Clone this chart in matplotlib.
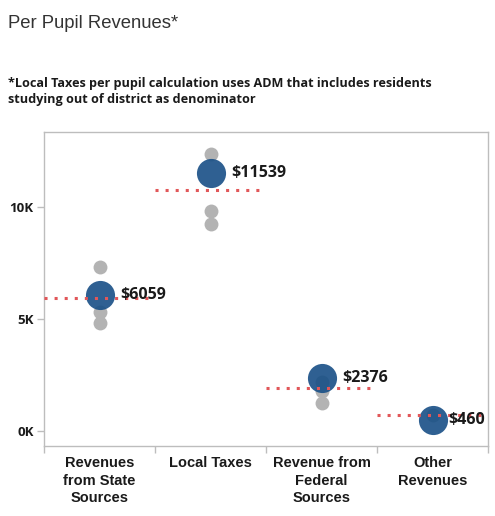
import numpy as np
import matplotlib
matplotlib.use("Agg")
import matplotlib.pyplot as plt
from matplotlib.ticker import FixedLocator, NullFormatter

# --- DATA ---
categories = ["Revenues\nfrom State\nSources", "Local Taxes",
              "Revenue from\nFederal\nSources", "Other\nRevenues"]
district_values = [6059, 11539, 2376, 460]
benchmark_values = [5960, 10760, 1905, 714]
# comparison districts (gray dots), per category
peer_state = [7320, 5330, 4800]
peer_local = [12380, 9820, 9230]
peer_federal = [2180, 1760, 1240]
peer_other = [690]
peer_values = [peer_state, peer_local, peer_federal, peer_other]
ytick_values = [0, 5000, 10000]
ytick_labels = ["0K", "5K", "10K"]

# --- STYLE ---
BLUE = "#184f86"
GRAY = "#b3b3b3"
RED = "#e15759"
AXIS_GRAY = "#bdbdbd"
TEXT = "#1a1a1a"

fig = plt.figure(figsize=(4.95, 5.16), dpi=100)
ax = fig.add_axes([44 / 495, 1 - 446 / 516, 444 / 495, 314 / 516])

x = np.arange(len(categories))

# gray peer dots
for i, vals in enumerate(peer_values):
    ax.scatter([x[i]] * len(vals), vals, s=100, color=GRAY, lw=0, zorder=2)

# district dots
ax.scatter(x, district_values, s=440, color=BLUE, alpha=0.9, lw=0, zorder=3)

# benchmark dotted lines
for i, v in enumerate(benchmark_values):
    ax.plot([x[i] - 0.5, x[i] + 0.45], [v, v], color=RED, lw=2.2,
            linestyle=(0, (1, 2.3)), dash_capstyle="butt", zorder=4)

# value labels
for i, v in enumerate(district_values):
    if i == len(district_values) - 1:
        ax.annotate(f"${v}", xy=(x[-1] + 0.5, v), xytext=(-2, 0),
                    textcoords="offset points", ha="right", va="center",
                    fontsize=11.5, fontweight="bold", family="Open Sans",
                    color=TEXT, zorder=5)
    else:
        ax.annotate(f"${v}", xy=(x[i], v), xytext=(15, 0),
                    textcoords="offset points", ha="left", va="center",
                    fontsize=11.5, fontweight="bold", family="Open Sans",
                    color=TEXT, zorder=5)

ax.set_xlim(-0.5, 3.5)
ax.set_ylim(-685, 13370)

# axes / ticks
for sp in ax.spines.values():
    sp.set_color(AXIS_GRAY)
    sp.set_linewidth(1)

ax.set_yticks(ytick_values)
ax.set_yticklabels(ytick_labels, fontsize=9.5, fontweight="bold",
                   family="Open Sans", color=TEXT)
ax.tick_params(axis="y", length=5, width=1, color=AXIS_GRAY, pad=2.5)

ax.set_xticks(x)
ax.set_xticklabels(categories, fontsize=10.5, fontweight="bold",
                   family="Liberation Sans", color=TEXT, linespacing=1.3,
                   va="top")
ax.tick_params(axis="x", which="major", length=0, pad=7.5)
ax.xaxis.set_minor_locator(FixedLocator([-0.5, 0.5, 1.5, 2.5, 3.5]))
ax.xaxis.set_minor_formatter(NullFormatter())
ax.tick_params(axis="x", which="minor", length=5, width=1, color=AXIS_GRAY)

# title and note
fig.text(8 / 495, 1 - 28 / 516, "Per Pupil Revenues*", fontsize=13.3,
         family="Liberation Sans", color="#333333", va="baseline")
fig.text(8 / 495, 1 - 103 / 516,
         "*Local Taxes per pupil calculation uses ADM that includes residents\n"
         "studying out of district as denominator",
         fontsize=9.05, fontweight="bold", family="Open Sans", color=TEXT,
         va="baseline", linespacing=1.25)

fig.savefig("out.png", dpi=100)
